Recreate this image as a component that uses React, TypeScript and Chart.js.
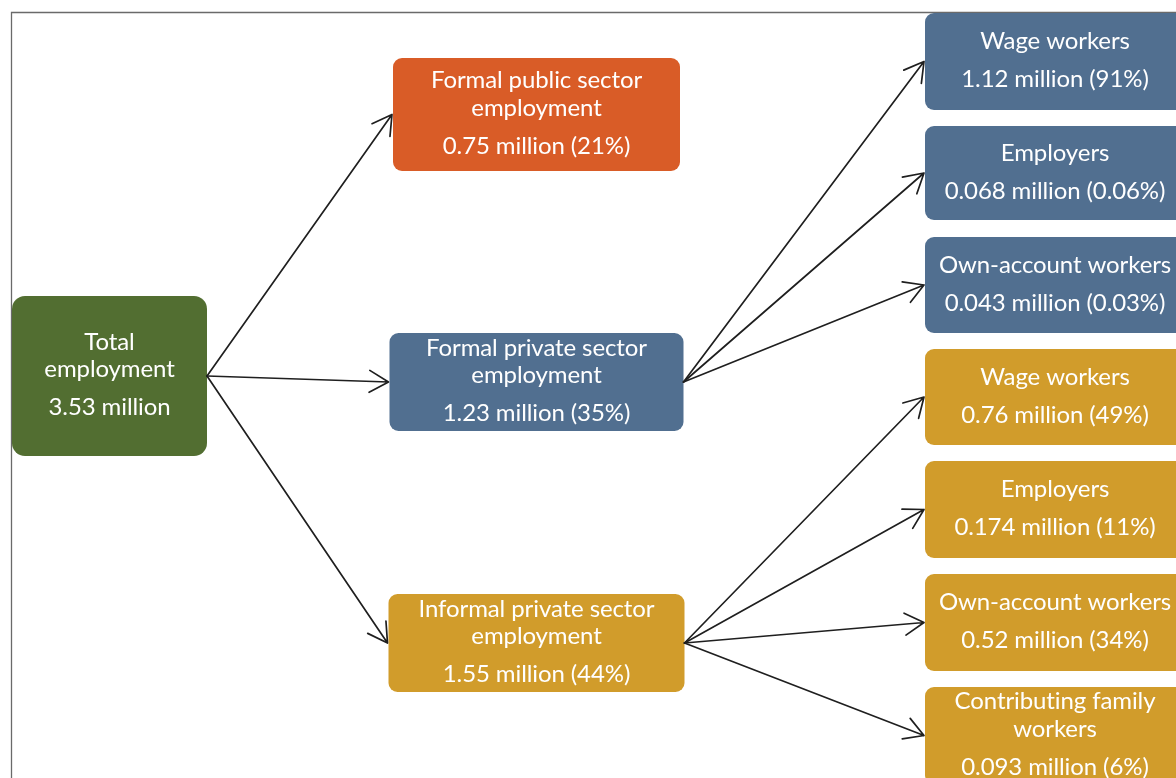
import { useEffect, useRef } from "react";
import { Chart, registerables } from "chart.js";

Chart.register(...registerables);

// ---- data ----
const nodeLabels = [
  "Total\nemployment",
  "Formal public sector\nemployment",
  "Formal private sector\nemployment",
  "Informal private sector\nemployment",
  "Wage workers",
  "Employers",
  "Own-account workers",
  "Wage workers",
  "Employers",
  "Own-account workers",
  "Contributing family\nworkers",
];
const nodeMillions = [3.53, 0.75, 1.23, 1.55, 1.12, 0.068, 0.043, 0.76, 0.174, 0.52, 0.093];
const nodeShares: (number | null)[] = [null, 21, 35, 44, 91, 0.06, 0.03, 49, 11, 34, 6];
const nodeParents = [-1, 0, 0, 0, 2, 2, 2, 3, 3, 3, 3];

// ---- layout / style ----
const columnX = [109.5, 536.5, 1055];
const nodeY = [376, 114.5, 382, 643, 61.5, 173, 285, 397, 509.5, 622.5, 735.5];
const boxW = [195, 287, 294, 296, 260, 260, 260, 260, 260, 260, 260];
const boxH = [160, 113, 98, 98, 97, 94, 96, 96, 97, 97, 97];
const boxR = [13, 9, 9, 9, 9, 9, 9, 9, 9, 9, 9];
const rootColors = ["#526e31", "#d95c27", "#516f90", "#d19c2b"];

function levelOf(i: number): number {
  let l = 0;
  let p = nodeParents[i];
  while (p >= 0) {
    l++;
    p = nodeParents[p];
  }
  return l;
}
function colorOf(i: number): string {
  let n = i;
  while (levelOf(n) > 1) n = nodeParents[n];
  return rootColors[n];
}
function valueText(i: number): string {
  const s = nodeShares[i];
  return s === null ? `${nodeMillions[i]} million` : `${nodeMillions[i]} million (${s}%)`;
}

function roundRect(ctx: CanvasRenderingContext2D, x: number, y: number, w: number, h: number, r: number) {
  ctx.beginPath();
  ctx.moveTo(x + r, y);
  ctx.lineTo(x + w - r, y);
  ctx.arcTo(x + w, y, x + w, y + r, r);
  ctx.lineTo(x + w, y + h - r);
  ctx.arcTo(x + w, y + h, x + w - r, y + h, r);
  ctx.lineTo(x + r, y + h);
  ctx.arcTo(x, y + h, x, y + h - r, r);
  ctx.lineTo(x, y + r);
  ctx.arcTo(x, y, x + r, y, r);
  ctx.closePath();
}

const flowPlugin = {
  id: "flowBoxes",
  beforeDatasetsDraw(chart: any) {
    const ctx: CanvasRenderingContext2D = chart.ctx;
    ctx.save();
    ctx.strokeStyle = "#6a6a6a";
    ctx.lineWidth = 1.3;
    ctx.beginPath();
    ctx.moveTo(11.5, chart.height + 5);
    ctx.lineTo(11.5, 12.5);
    ctx.lineTo(chart.width + 5, 12.5);
    ctx.stroke();
    ctx.restore();
  },
  afterDatasetsDraw(chart: any) {
    const ctx: CanvasRenderingContext2D = chart.ctx;
    const pts = chart.getDatasetMeta(0).data;
    ctx.save();
    // boxes
    for (let i = 0; i < nodeLabels.length; i++) {
      const { x, y } = pts[i];
      ctx.fillStyle = colorOf(i);
      roundRect(ctx, x - boxW[i] / 2, y - boxH[i] / 2, boxW[i], boxH[i], boxR[i]);
      ctx.fill();
      // text
      const lines = nodeLabels[i].split("\n");
      const lh = 27.5;
      const gap = 38;
      const span = (lines.length - 1) * lh + gap;
      const top = y - 2 - span / 2;
      ctx.fillStyle = "#ffffff";
      ctx.font = "24px Lato";
      (ctx as any).letterSpacing = "-0.1px";
      ctx.textAlign = "center";
      ctx.textBaseline = "middle";
      lines.forEach((t, k) => ctx.fillText(t, x, top + k * lh + 1));
      ctx.fillText(valueText(i), x, top + (lines.length - 1) * lh + gap + 1);
    }
    // arrows
    ctx.strokeStyle = "#1f1f1f";
    ctx.lineWidth = 1.7;
    ctx.lineCap = "round";
    ctx.lineJoin = "round";
    for (let i = 0; i < nodeLabels.length; i++) {
      const p = nodeParents[i];
      if (p < 0) continue;
      const sx = pts[p].x + boxW[p] / 2;
      const sy = pts[p].y;
      const tx = pts[i].x - boxW[i] / 2 - 1;
      const ty = pts[i].y;
      const ang = Math.atan2(ty - sy, tx - sx);
      const L = 22;
      const a = Math.PI / 6;
      ctx.beginPath();
      ctx.moveTo(sx, sy);
      ctx.lineTo(tx, ty);
      ctx.moveTo(tx - L * Math.cos(ang - a), ty - L * Math.sin(ang - a));
      ctx.lineTo(tx, ty);
      ctx.lineTo(tx - L * Math.cos(ang + a), ty - L * Math.sin(ang + a));
      ctx.stroke();
    }
    ctx.restore();
  },
};

export default function App() {
  const ref = useRef<HTMLCanvasElement | null>(null);
  useEffect(() => {
    document.body.style.margin = "0";
    const chart = new Chart(ref.current as HTMLCanvasElement, {
      type: "scatter",
      data: {
        datasets: [
          {
            data: nodeLabels.map((_, i) => ({ x: columnX[levelOf(i)], y: nodeY[i] })),
            pointRadius: 0,
            pointHoverRadius: 0,
          },
        ],
      },
      options: {
        animation: false,
        responsive: true,
        maintainAspectRatio: false,
        layout: { padding: 0 },
        events: [],
        scales: {
          x: { type: "linear", min: 0, max: 1176, display: false },
          y: { type: "linear", min: 0, max: 778, reverse: true, display: false },
        },
        plugins: { legend: { display: false }, tooltip: { enabled: false } },
      },
      plugins: [flowPlugin],
    } as any);
    return () => chart.destroy();
  }, []);
  return (
    <div style={{ position: "absolute", left: 0, top: 0, width: 1176, height: 778, background: "#fff" }}>
      <canvas ref={ref} />
    </div>
  );
}
